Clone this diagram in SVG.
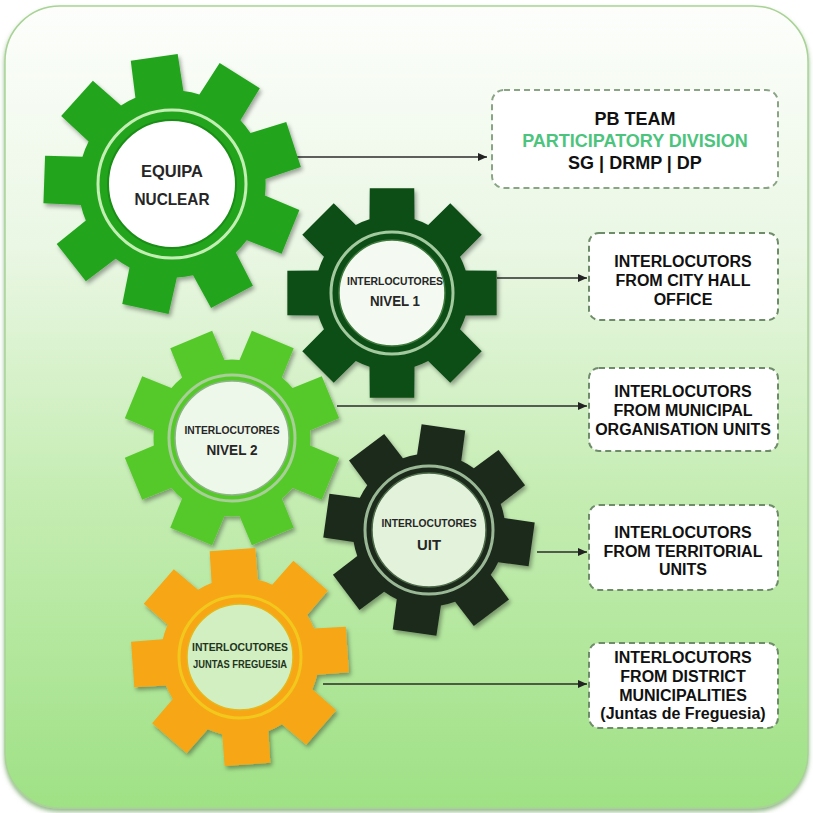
<svg xmlns="http://www.w3.org/2000/svg" width="813" height="813" viewBox="0 0 813 813">
<defs>
  <linearGradient id="bg" x1="0" y1="0" x2="0" y2="1">
    <stop offset="0" stop-color="#fdfefc"/>
    <stop offset="0.3" stop-color="#eaf7e4"/>
    <stop offset="0.6" stop-color="#c6edb4"/>
    <stop offset="1" stop-color="#9fe185"/>
  </linearGradient>
  <filter id="sh" x="-20%" y="-20%" width="140%" height="140%">
    <feDropShadow dx="2" dy="3" stdDeviation="2" flood-color="#000" flood-opacity="0.35"/>
  </filter>
  <filter id="psh" x="-5%" y="-5%" width="110%" height="110%">
    <feDropShadow dx="0" dy="3" stdDeviation="2" flood-color="#4d8a3a" flood-opacity="0.6"/>
  </filter>
  <path id="g8" d="M68.85,-21.05 L97.81,-20.79 L97.81,20.79 L68.85,21.05 A72,72 0 0 1 63.57,33.8 L83.87,54.46 L54.46,83.87 L33.8,63.57 A72,72 0 0 1 21.05,68.85 L20.79,97.81 L-20.79,97.81 L-21.05,68.85 A72,72 0 0 1 -33.8,63.57 L-54.46,83.87 L-83.87,54.46 L-63.57,33.8 A72,72 0 0 1 -68.85,21.05 L-97.81,20.79 L-97.81,-20.79 L-68.85,-21.05 A72,72 0 0 1 -63.57,-33.8 L-83.87,-54.46 L-54.46,-83.87 L-33.8,-63.57 A72,72 0 0 1 -21.05,-68.85 L-20.79,-97.81 L20.79,-97.81 L21.05,-68.85 A72,72 0 0 1 33.8,-63.57 L54.46,-83.87 L83.87,-54.46 L63.57,-33.8 A72,72 0 0 1 68.85,-21.05 Z"/>
  <path id="g9" d="M69.55,-18.64 L98.33,-18.22 L98.33,18.22 L69.55,18.64 A72,72 0 0 1 65.25,30.43 L87.04,49.24 L63.61,77.16 L41.3,58.98 A72,72 0 0 1 30.43,65.25 L35.02,93.67 L-0.87,100 L-6.28,71.73 A72,72 0 0 1 -18.64,69.55 L-33.38,94.26 L-64.95,76.04 L-50.91,50.91 A72,72 0 0 1 -58.98,41.3 L-86.16,50.75 L-98.63,16.5 L-71.73,6.28 A72,72 0 0 1 -71.73,-6.28 L-98.63,-16.5 L-86.16,-50.75 L-58.98,-41.3 A72,72 0 0 1 -50.91,-50.91 L-64.95,-76.04 L-33.38,-94.26 L-18.64,-69.55 A72,72 0 0 1 -6.28,-71.73 L-0.87,-100 L35.02,-93.67 L30.43,-65.25 A72,72 0 0 1 41.3,-58.98 L63.61,-77.16 L87.04,-49.24 L65.25,-30.43 A72,72 0 0 1 69.55,-18.64 Z"/>
  <marker id="ah" viewBox="0 0 9 8" refX="9" refY="4" markerWidth="9" markerHeight="8" markerUnits="userSpaceOnUse" orient="auto">
    <path d="M0,0 L9,4 L0,8 Z" fill="#222"/>
  </marker>
</defs>
<style>
  .gt{font-family:"Liberation Sans",Arial,sans-serif;font-weight:700;fill:#262626;text-anchor:middle}
  .bt{font-family:"Liberation Sans",Arial,sans-serif;font-weight:700;font-size:16px;fill:#111;text-anchor:middle}
  .box{fill:#fff;stroke:#6e8c69;stroke-width:2;stroke-dasharray:6 4}
  .conn{stroke:#2b2b2b;stroke-width:1.6;fill:none;marker-end:url(#ah)}
  .ring{fill:none;stroke-width:3}
</style>
<rect x="0" y="0" width="813" height="813" fill="#ffffff"/>
<rect x="5" y="6" width="803" height="802" rx="55" fill="url(#bg)" stroke="#a9d396" stroke-width="1.5" filter="url(#psh)"/>

<g id="connectors">
  <line class="conn" x1="278" y1="157" x2="487" y2="157"/>
  <line class="conn" x1="497" y1="278" x2="587" y2="278"/>
  <line class="conn" x1="337" y1="406" x2="587" y2="406"/>
  <line class="conn" x1="537" y1="552" x2="587" y2="552"/>
  <line class="conn" x1="323" y1="684" x2="587" y2="684"/>
</g>

<g id="gear-equipa-nuclear" transform="translate(172,184)">
  <g filter="url(#sh)"><use href="#g9" transform="rotate(-18) scale(1.3)" fill="#22a51c"/></g>
  <circle r="74" class="ring" stroke="#c4efb4" stroke-width="2.5"/>
  <circle r="64" fill="#ffffff" stroke="#1a8e16" stroke-width="2"/>
  <text class="gt" font-size="16.5" y="-7" textLength="62" lengthAdjust="spacingAndGlyphs">EQUIPA</text>
  <text class="gt" font-size="16.5" y="21" textLength="75" lengthAdjust="spacingAndGlyphs">NUCLEAR</text>
</g>

<g id="gear-nivel-2" transform="translate(232,438)">
  <g filter="url(#sh)"><use href="#g8" transform="rotate(22.5) scale(1.09)" fill="#57c92c"/></g>
  <circle r="63" class="ring" stroke="#a8cf98"/>
  <circle r="57" fill="#eef8ea" stroke="#8fb38a" stroke-width="1.5"/>
  <text class="gt" font-size="11.5" y="-4" textLength="95" lengthAdjust="spacingAndGlyphs">INTERLOCUTORES</text>
  <text class="gt" font-size="15" y="17" textLength="51" lengthAdjust="spacingAndGlyphs">NIVEL 2</text>
</g>

<g id="gear-nivel-1" transform="translate(392,293)">
  <g filter="url(#sh)"><use href="#g8" transform="scale(1.07)" fill="#0f4d15"/></g>
  <circle r="61" class="ring" stroke="#a3c99e"/>
  <circle r="53" fill="#f4faf1" stroke="#3f7a3d" stroke-width="1.5"/>
  <text class="gt" font-size="11.5" y="-8" x="3" textLength="96" lengthAdjust="spacingAndGlyphs">INTERLOCUTORES</text>
  <text class="gt" font-size="15" y="13" x="3" textLength="50" lengthAdjust="spacingAndGlyphs">NIVEL 1</text>
</g>

<g id="gear-juntas-freguesia" transform="translate(240,657)">
  <g filter="url(#sh)"><use href="#g8" transform="rotate(-4) scale(1.1)" fill="#f7a614"/></g>
  <circle r="61" class="ring" stroke="#f3c81c"/>
  <circle r="53" fill="#d2efc2" stroke="#e6b81a" stroke-width="1.5"/>
  <text class="gt" font-size="11.5" y="-6" textLength="96" lengthAdjust="spacingAndGlyphs" style="fill:#23341c">INTERLOCUTORES</text>
  <text class="gt" font-size="10" y="11" textLength="94" lengthAdjust="spacingAndGlyphs" style="fill:#23341c">JUNTAS FREGUESIA</text>
</g>

<g id="gear-uit" transform="translate(429,530)">
  <g filter="url(#sh)"><use href="#g8" transform="rotate(8) scale(1.06)" fill="#1e2b1c"/></g>
  <circle r="64" class="ring" stroke="#9ab895"/>
  <circle r="57" fill="#e3f3db" stroke="#4d6a49" stroke-width="1.5"/>
  <text class="gt" font-size="11.5" y="-3" textLength="95" lengthAdjust="spacingAndGlyphs">INTERLOCUTORES</text>
  <text class="gt" font-size="15" y="20" textLength="24" lengthAdjust="spacingAndGlyphs">UIT</text>
</g>

<g id="box-pb-team">
  <rect class="box" x="492" y="90" width="286" height="98" rx="12" style="stroke:#8aa586"/>
  <text class="bt" x="635" y="125" style="font-size:18px">PB TEAM</text>
  <text class="bt" x="635" y="147" style="font-size:18px;fill:#4dc47d">PARTICIPATORY DIVISION</text>
  <text class="bt" x="635" y="169" style="font-size:18px">SG | DRMP | DP</text>
</g>

<g id="box-city-hall">
  <rect class="box" x="589" y="233" width="189" height="87" rx="10"/>
  <text class="bt" x="683" y="267">INTERLOCUTORS</text>
  <text class="bt" x="683" y="286">FROM CITY HALL</text>
  <text class="bt" x="683" y="305">OFFICE</text>
</g>

<g id="box-municipal">
  <rect class="box" x="589" y="368" width="189" height="83" rx="10"/>
  <text class="bt" x="683" y="397">INTERLOCUTORS</text>
  <text class="bt" x="683" y="416">FROM MUNICIPAL</text>
  <text class="bt" x="683" y="435">ORGANISATION UNITS</text>
</g>

<g id="box-territorial">
  <rect class="box" x="589" y="505" width="189" height="85" rx="10"/>
  <text class="bt" x="683" y="538">INTERLOCUTORS</text>
  <text class="bt" x="683" y="557">FROM TERRITORIAL</text>
  <text class="bt" x="683" y="575">UNITS</text>
</g>

<g id="box-district">
  <rect class="box" x="589" y="643" width="189" height="85" rx="10"/>
  <text class="bt" x="683" y="663">INTERLOCUTORS</text>
  <text class="bt" x="683" y="682">FROM DISTRICT</text>
  <text class="bt" x="683" y="701">MUNICIPALITIES</text>
  <text class="bt" x="683" y="719">(Juntas de Freguesia)</text>
</g>
</svg>
